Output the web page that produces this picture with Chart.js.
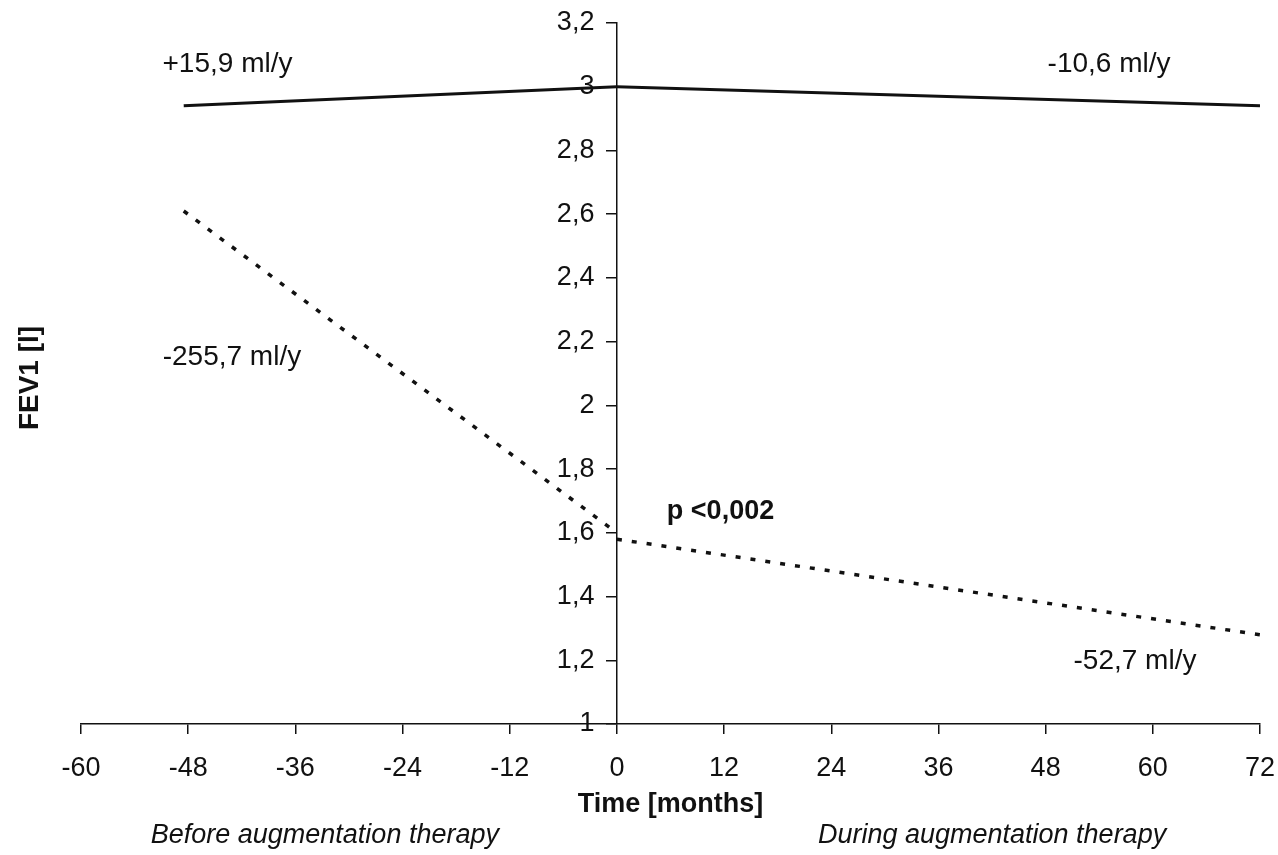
<!DOCTYPE html>
<html>
<head>
<meta charset="utf-8">
<script src="https://cdn.jsdelivr.net/npm/chart.js@4.4.1/dist/chart.umd.min.js"></script>
<style>
  html, body { margin: 0; padding: 0; background: #fff; }
</style>
</head>
<body>
<canvas id="fevChart" width="1278" height="855"></canvas>
<script>
// months relative to start of augmentation therapy
const beforeMonths = [-48.5, 0];
const duringMonths = [0, 72];

// FEV1 [l]
const fev1StableBefore = [2.94, 3.00];
const fev1StableDuring = [3.00, 2.94];
const fev1DeclineBefore = [2.61, 1.60];
const fev1DeclineDuring = [1.58, 1.28];

const slopeLabels = ["+15,9 ml/y", "-10,6 ml/y", "-255,7 ml/y", "-52,7 ml/y"];
const slopeLabelMonths = [-43.6, 55.1, -43.1, 58.0];
const slopeLabelFev = [3.072, 3.072, 2.150, 1.197];

const pLabel = "p <0,002";
const pLabelMonth = 11.6;
const pLabelFev = 1.668;

const phaseLabels = ["Before augmentation therapy", "During augmentation therapy"];
const phaseLabelMonths = [-32.7, 42];

const FONT = "'Liberation Sans', Arial, sans-serif";

function toPoints(xs, ys) {
    return xs.map((x, i) => ({ x, y: ys[i] }));
}

const textPlugin = {
    id: "texts",
    afterDraw(chart) {
        const { ctx, scales } = chart;
        const xs = scales.x, ys = scales.y;
        ctx.save();
        ctx.fillStyle = "#111";
        ctx.textAlign = "center";
        ctx.textBaseline = "middle";

        ctx.font = `28px ${FONT}`;
        slopeLabels.forEach((txt, i) => {
            ctx.fillText(txt, xs.getPixelForValue(slopeLabelMonths[i]), ys.getPixelForValue(slopeLabelFev[i]));
        });

        ctx.font = `bold 27px ${FONT}`;
        ctx.fillText(pLabel, xs.getPixelForValue(pLabelMonth), ys.getPixelForValue(pLabelFev));

        ctx.font = `italic 27px ${FONT}`;
        phaseLabels.forEach((txt, i) => {
            ctx.fillText(txt, xs.getPixelForValue(phaseLabelMonths[i]), 835);
        });

        // y axis title sits at the left edge, not next to the centred axis
        ctx.font = `bold 28px ${FONT}`;
        ctx.translate(30, 378);
        ctx.rotate(-Math.PI / 2);
        ctx.fillText("FEV1 [l]", 0, 0);
        ctx.restore();
    }
};

const lineStyle = {
    borderColor: "#111",
    pointRadius: 0,
    showLine: true,
    fill: false,
    tension: 0
};

const datasets = [
    { ...lineStyle, label: "stable before", data: toPoints(beforeMonths, fev1StableBefore), borderWidth: 3 },
    { ...lineStyle, label: "stable during", data: toPoints(duringMonths, fev1StableDuring), borderWidth: 3 },
    { ...lineStyle, label: "decline before", data: toPoints(beforeMonths, fev1DeclineBefore), borderWidth: 3.5, borderDash: [5, 10] },
    { ...lineStyle, label: "decline during", data: toPoints(duringMonths, fev1DeclineDuring), borderWidth: 3.5, borderDash: [5, 10] }
];

// comma decimals; trailing spaces keep the labels clear of the centred axis
const fmt = (v) => String(Math.round(v * 10) / 10).replace(".", ",") + "   ";

new Chart(document.getElementById("fevChart"), {
    type: "scatter",
    data: { datasets },
    plugins: [textPlugin],
    options: {
        responsive: false,
        animation: false,
        layout: { padding: { left: 81, right: 18, top: 23, bottom: 34 } },
        plugins: { legend: { display: false }, tooltip: { enabled: false } },
        scales: {
            x: {
                type: "linear",
                position: "bottom",
                min: -60,
                max: 72,
                afterFit: (scale) => {
                    scale.height = 97;
                    // tick padding would otherwise widen the side margins
                    scale.paddingLeft = 0;
                    scale.paddingRight = 0;
                },
                ticks: { stepSize: 12, color: "#111", font: { family: FONT, size: 27 }, padding: 18, maxRotation: 0 },
                grid: { drawOnChartArea: false, drawTicks: true, tickLength: 10, color: "#111", lineWidth: 1.5 },
                border: { display: true, color: "#111", width: 1.5 },
                title: { display: true, text: "Time [months]", color: "#111", font: { family: FONT, size: 27, weight: "bold" }, padding: 0 }
            },
            y: {
                type: "linear",
                position: { x: 0 },
                min: 1,
                max: 3.2,
                ticks: { stepSize: 0.2, color: "#111", font: { family: FONT, size: 27 }, callback: fmt },
                grid: { drawOnChartArea: false, drawTicks: true, tickLength: 10, color: "#111", lineWidth: 1.5 },
                border: { display: true, color: "#111", width: 1.5 }
            }
        }
    }
});
</script>
</body>
</html>
